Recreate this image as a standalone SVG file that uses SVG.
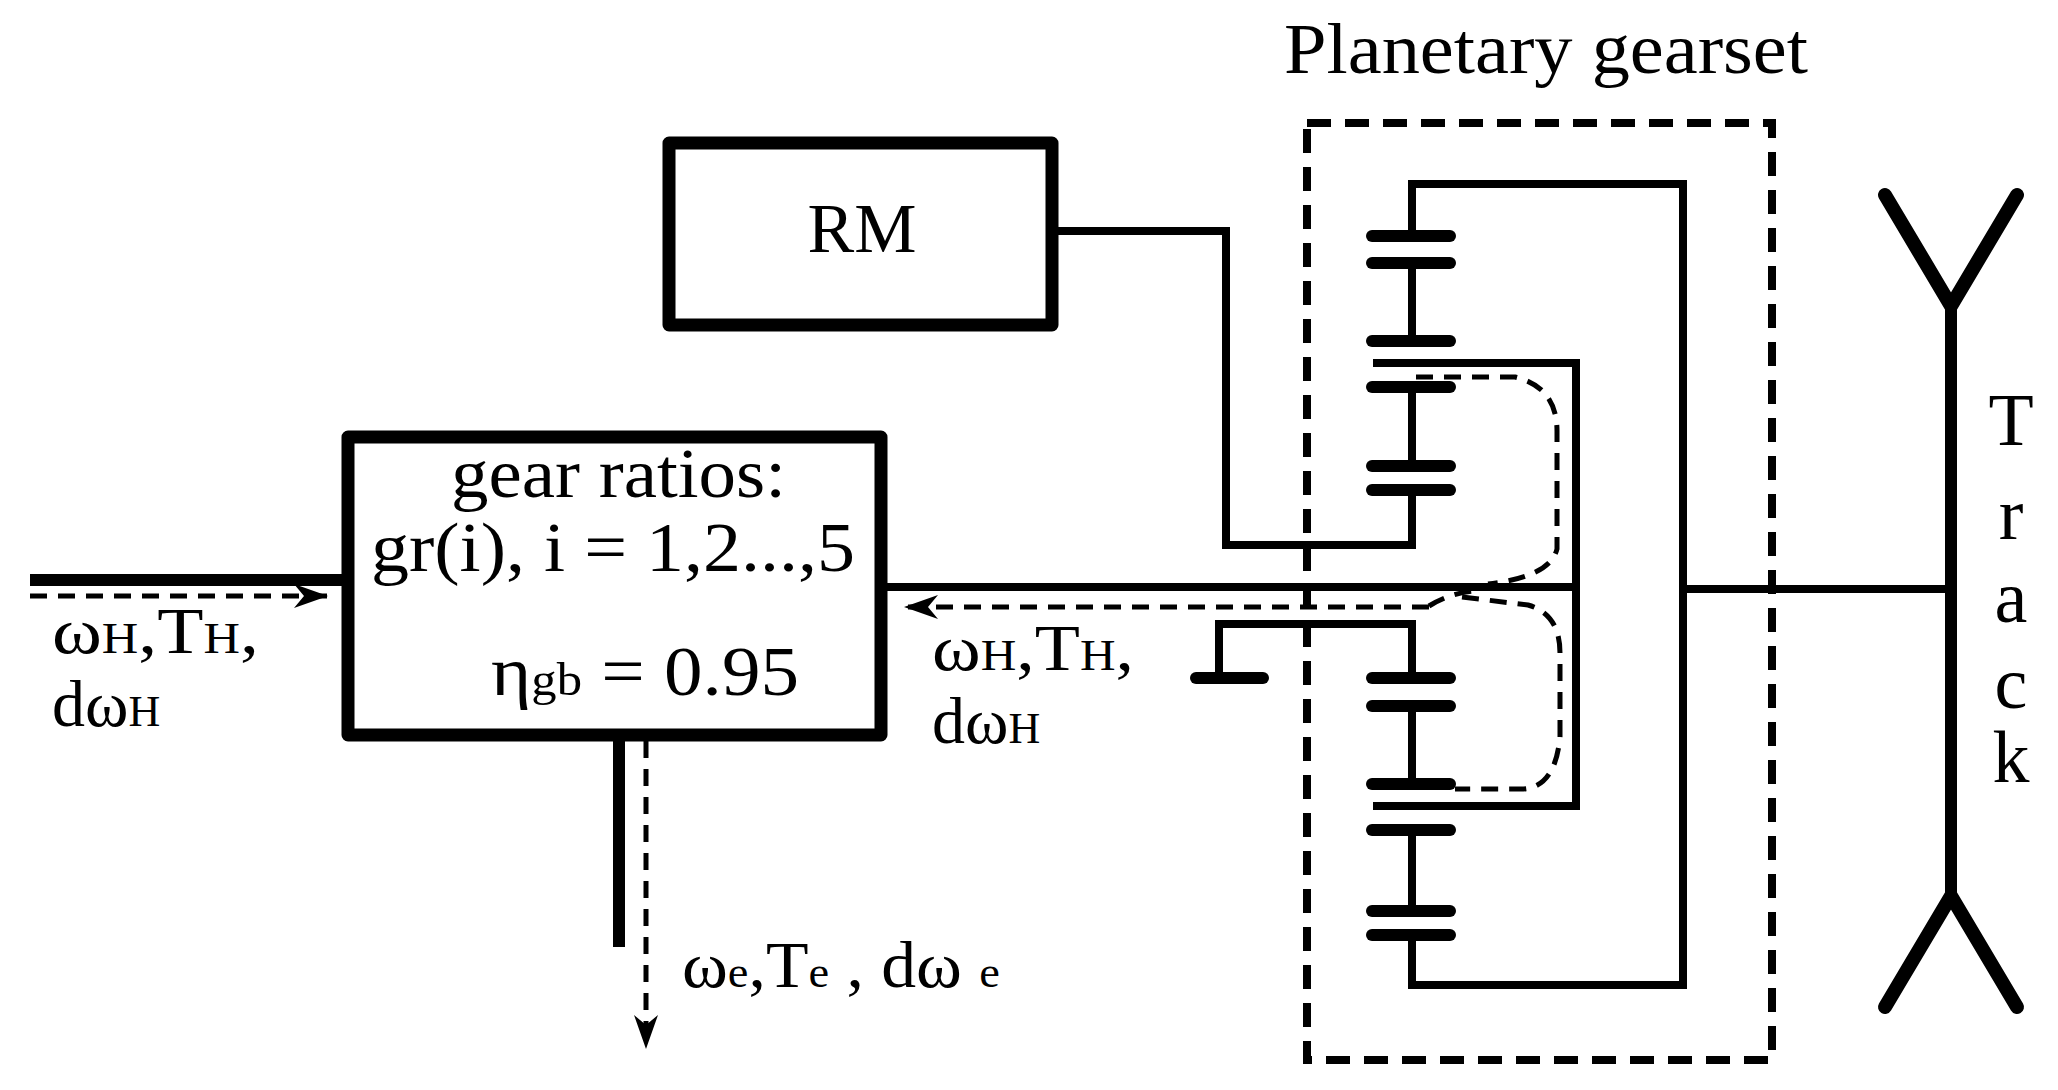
<svg xmlns="http://www.w3.org/2000/svg" width="2058" height="1090" viewBox="0 0 2058 1090">
<style>
.t{font-family:"Liberation Serif","Times New Roman",serif;fill:#000}
.box{fill:none;stroke:#000;stroke-width:13;stroke-linejoin:round}
.ln{fill:none;stroke:#000;stroke-width:8;stroke-linecap:square}
.th{fill:none;stroke:#000;stroke-width:12}
.tooth{stroke:#000;stroke-width:12;stroke-linecap:round}
.dash{fill:none;stroke:#000;stroke-width:5;stroke-dasharray:17 11}
.dbox{fill:none;stroke:#000;stroke-width:8;stroke-dasharray:24 14}
.trk{fill:none;stroke:#000;stroke-width:14;stroke-linecap:round;stroke-linejoin:miter}
</style>
<defs>
<marker id="ah" viewBox="0 0 34 24" refX="34" refY="12" markerWidth="34" markerHeight="24" markerUnits="userSpaceOnUse" orient="auto">
<path d="M0,0 L34,12 L0,24 L10,12 Z" fill="#000"/>
</marker>
</defs>
<rect width="2058" height="1090" fill="#fff"/>

<g id="title"><text class="t" x="1546" y="73" font-size="72" text-anchor="middle" textLength="524" lengthAdjust="spacingAndGlyphs">Planetary gearset</text></g>

<g id="rm">
<rect class="box" x="669" y="143" width="383" height="182"/>
<text class="t" x="862" y="252" font-size="70" text-anchor="middle">RM</text>
</g>

<g id="gearbox">
<rect class="box" x="348" y="437" width="533" height="298"/>
<text class="t" x="451" y="497" font-size="70" textLength="335" lengthAdjust="spacingAndGlyphs">gear ratios:</text>
<text class="t" x="371" y="571" font-size="70" textLength="484" lengthAdjust="spacingAndGlyphs">gr(i), i = 1,2...,5</text>
<text class="t" x="491" y="695" font-size="70" textLength="308" lengthAdjust="spacingAndGlyphs">η<tspan font-size="46">gb</tspan> = 0.95</text>
</g>

<g id="planetary">
<rect class="dbox" x="1307" y="123" width="465" height="937"/>
<polyline class="ln" points="1412,236 1412,184 1683,184 1683,985 1412,985 1412,935"/>
<line class="ln" x1="1412" y1="263" x2="1412" y2="341"/>
<polyline class="ln" points="1377,363 1576,363 1576,806 1377,806"/>
<line class="ln" x1="1412" y1="387" x2="1412" y2="466"/>
<polyline class="ln" points="1412,490 1412,545 1226,545 1226,231 1052,231"/>
<polyline class="ln" points="1412,678 1412,624 1219,624 1219,678"/>
<line class="tooth" x1="1196" y1="678" x2="1263" y2="678"/>
<line class="ln" x1="1412" y1="706" x2="1412" y2="784"/>
<line class="ln" x1="1412" y1="830" x2="1412" y2="911"/>
<g>
<line class="tooth" x1="1372" y1="236" x2="1450" y2="236"/>
<line class="tooth" x1="1372" y1="263" x2="1450" y2="263"/>
<line class="tooth" x1="1372" y1="341" x2="1450" y2="341"/>
<line class="tooth" x1="1372" y1="387" x2="1450" y2="387"/>
<line class="tooth" x1="1372" y1="466" x2="1450" y2="466"/>
<line class="tooth" x1="1372" y1="490" x2="1450" y2="490"/>
<line class="tooth" x1="1372" y1="678" x2="1450" y2="678"/>
<line class="tooth" x1="1372" y1="706" x2="1450" y2="706"/>
<line class="tooth" x1="1372" y1="784" x2="1450" y2="784"/>
<line class="tooth" x1="1372" y1="830" x2="1450" y2="830"/>
<line class="tooth" x1="1372" y1="911" x2="1450" y2="911"/>
<line class="tooth" x1="1372" y1="935" x2="1450" y2="935"/>
</g>
</g>

<g id="track">
<polyline class="trk" points="1885,195 1951,306 2017,195"/>
<polyline class="trk" points="1885,1007 1951,896 2017,1007"/>
<line x1="1951" y1="306" x2="1951" y2="896" stroke="#000" stroke-width="12"/>
<text class="t" x="2011" y="445" font-size="74" text-anchor="middle">T</text>
<text class="t" x="2011" y="539" font-size="74" text-anchor="middle">r</text>
<text class="t" x="2011" y="622" font-size="74" text-anchor="middle">a</text>
<text class="t" x="2011" y="708" font-size="74" text-anchor="middle">c</text>
<text class="t" x="2011" y="782" font-size="74" text-anchor="middle">k</text>
</g>

<g id="connectors">
<line class="th" x1="30" y1="580" x2="342" y2="580"/>
<line class="ln" x1="881" y1="587" x2="1576" y2="587"/>
<line class="ln" x1="1683" y1="589" x2="1951" y2="589"/>
<line class="th" x1="619" y1="735" x2="619" y2="947"/>
<line class="dash" x1="30" y1="596" x2="328" y2="596" marker-end="url(#ah)"/>
<line class="dash" x1="646" y1="741" x2="646" y2="1049" marker-end="url(#ah)"/>
<path class="dash" d="M1429,607 L904,607" marker-end="url(#ah)"/>
<path class="dash" d="M1416,377 L1515,377 Q1557,387 1557,431 L1557,549 Q1550,577 1488,584"/>
<path class="dash" d="M1429,606 Q1450,593 1475,591"/>
<path class="dash" d="M1462,597 L1528,605 Q1560,614 1560,653 L1560,737 Q1555,789 1521,789 L1455,789"/>
</g>

<g id="labels">
<text class="t" x="52" y="653" font-size="66" textLength="207" lengthAdjust="spacingAndGlyphs">ω<tspan font-size="44">H</tspan>,T<tspan font-size="44">H</tspan>,</text>
<text class="t" x="52" y="726" font-size="66">dω<tspan font-size="44">H</tspan></text>
<text class="t" x="932" y="670" font-size="66" textLength="202" lengthAdjust="spacingAndGlyphs">ω<tspan font-size="44">H</tspan>,T<tspan font-size="44">H</tspan>,</text>
<text class="t" x="932" y="743" font-size="66">dω<tspan font-size="44">H</tspan></text>
<text class="t" x="682" y="987" font-size="66" textLength="318" lengthAdjust="spacingAndGlyphs">ω<tspan font-size="44">e</tspan>,T<tspan font-size="44">e</tspan> , dω <tspan font-size="44">e</tspan></text>
</g>
</svg>
